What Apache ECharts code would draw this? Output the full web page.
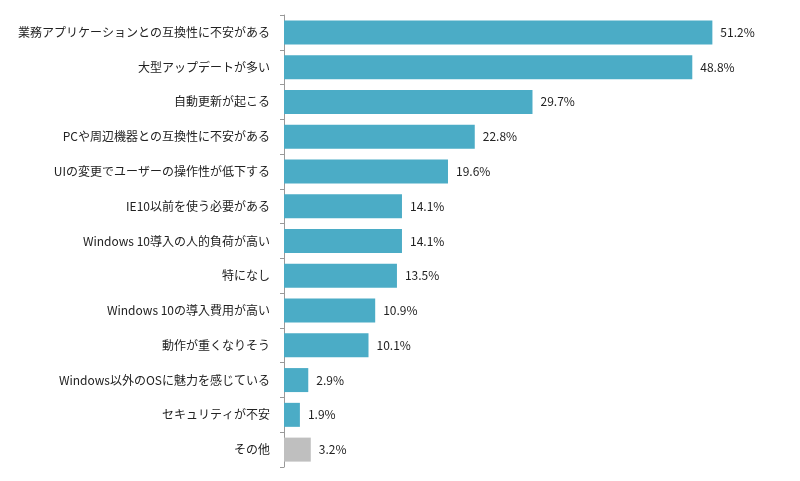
<!DOCTYPE html>
<html><head><meta charset="utf-8">
<script src="https://cdn.jsdelivr.net/npm/echarts@6/dist/echarts.min.js"></script>
<style>body{margin:0;background:#fff}#c{width:800px;height:481px}</style></head>
<body><div id="c"></div>
<script>
const categories = ["業務アプリケーションとの互換性に不安がある","大型アップデートが多い","自動更新が起こる","PCや周辺機器との互換性に不安がある","UIの変更でユーザーの操作性が低下する","IE10以前を使う必要がある","Windows 10導入の人的負荷が高い","特になし","Windows 10の導入費用が高い","動作が重くなりそう","Windows以外のOSに魅力を感じている","セキュリティが不安","その他"];
const values = [51.2,48.8,29.7,22.8,19.6,14.1,14.1,13.5,10.9,10.1,2.9,1.9,3.2];
const chart = echarts.init(document.getElementById('c'));
chart.setOption({
  animation:false,
  grid:{left:284,right:14,top:15,bottom:14},
  xAxis:{type:'value',min:0,max:60,show:false},
  yAxis:{type:'category',inverse:true,data:categories,
    axisLine:{lineStyle:{color:'#999'}},axisTick:{show:true,length:4,lineStyle:{color:'#999'}},
    axisLabel:{color:'#222',fontSize:12,margin:14,fontFamily:'Noto Sans CJK JP'}},
  series:[{type:'bar',barWidth:24,
    data:values.map((v,i)=>({value:v,itemStyle:{color:i===values.length-1?'#BFBFBF':'#4BACC6'}})),
    label:{show:true,position:'right',distance:8,color:'#222',fontSize:12,fontFamily:'Noto Sans CJK JP',formatter:p=>p.value.toFixed(1)+'%'}}]
});
</script></body></html>
